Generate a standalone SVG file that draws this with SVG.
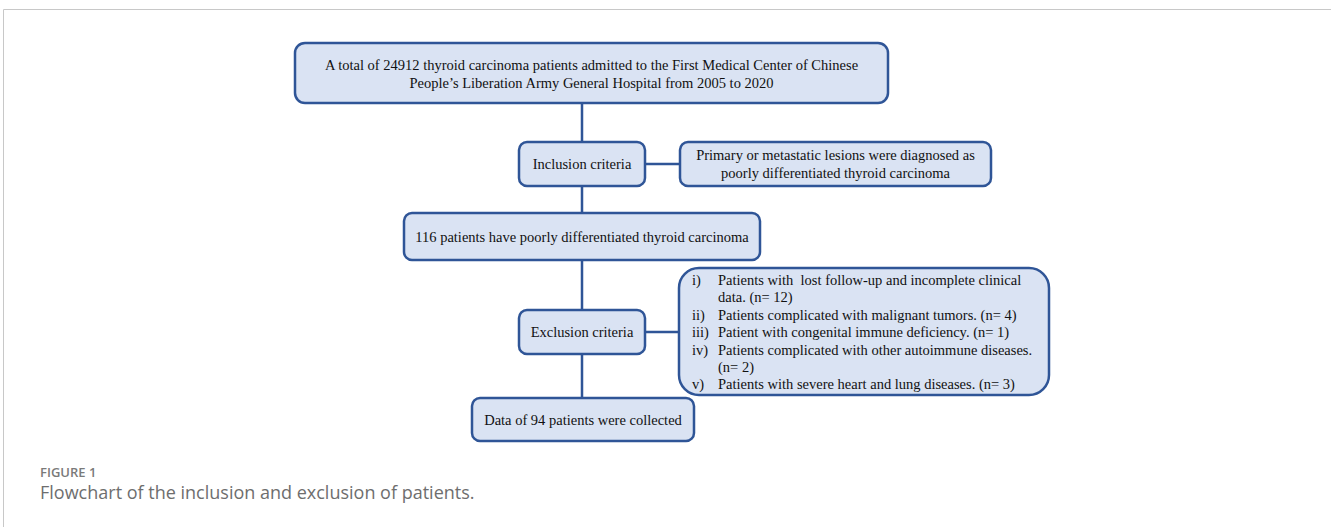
<svg xmlns="http://www.w3.org/2000/svg" width="1331" height="527" viewBox="0 0 1331 527">
<style>
.box{fill:#dae3f3;stroke:#2f5597;stroke-width:2.5}
.t{font-family:"Liberation Serif","Times New Roman",serif;font-size:14.5px;fill:#111}
.c{text-anchor:middle}
.ln{stroke:#2f5597;stroke-width:2.5;fill:none}
</style>
<rect width="1331" height="527" fill="#fff"/>
<path d="M3.5 527 V9.5 H1331" fill="none" stroke="#c8c8c8" stroke-width="1"/>
<g id="connectors">
<path class="ln" d="M582 103 V142 M582 186 V213 M582 260 V310 M582 354 V398 M645 164 H680 M645 332 H679"/>
</g>
<g id="n1"><rect class="box" x="295" y="43" width="593" height="60" rx="10"/>
<text class="t c" x="591.5" y="70">A total of 24912 thyroid carcinoma patients admitted to the First Medical Center of Chinese</text>
<text class="t c" x="591.5" y="88">People’s Liberation Army General Hospital from 2005 to 2020</text></g>
<g id="n2"><rect class="box" x="519" y="142" width="126" height="44" rx="8"/>
<text class="t c" x="582" y="169">Inclusion criteria</text></g>
<g id="n3"><rect class="box" x="680" y="142" width="311" height="44" rx="8"/>
<text class="t c" x="835.5" y="160">Primary or metastatic lesions were diagnosed as</text>
<text class="t c" x="835.5" y="178">poorly differentiated thyroid carcinoma</text></g>
<g id="n4"><rect class="box" x="404" y="213" width="356" height="47" rx="8"/>
<text class="t c" x="582" y="242">116 patients have poorly differentiated thyroid carcinoma</text></g>
<g id="n5"><rect class="box" x="519" y="310" width="126" height="44" rx="8"/>
<text class="t c" x="582" y="337">Exclusion criteria</text></g>
<g id="n6"><rect class="box" x="679" y="268" width="370" height="127" rx="20"/>
<text class="t" x="692" y="285">i)</text><text class="t" x="718" y="285" xml:space="preserve">Patients with  lost follow-up and incomplete clinical</text>
<text class="t" x="718" y="302">data. (n= 12)</text>
<text class="t" x="692" y="320">ii)</text><text class="t" x="718" y="320">Patients complicated with malignant tumors. (n= 4)</text>
<text class="t" x="692" y="337">iii)</text><text class="t" x="718" y="337">Patient with congenital immune deficiency. (n= 1)</text>
<text class="t" x="692" y="355">iv)</text><text class="t" x="718" y="355">Patients complicated with other autoimmune diseases.</text>
<text class="t" x="718" y="372">(n= 2)</text>
<text class="t" x="692" y="389">v)</text><text class="t" x="718" y="389">Patients with severe heart and lung diseases. (n= 3)</text></g>
<g id="n7"><rect class="box" x="472" y="398" width="222" height="43" rx="8"/>
<text class="t c" x="583" y="425">Data of 94 patients were collected</text></g>
<text x="40" y="477" font-family="'Open Sans',Lato,sans-serif" font-size="13" font-weight="600" fill="#7a7a7a">FIGURE 1</text>
<text x="40" y="499" font-family="'Open Sans',Lato,sans-serif" font-size="18" fill="#6e6e6e">Flowchart of the inclusion and exclusion of patients.</text>
</svg>
